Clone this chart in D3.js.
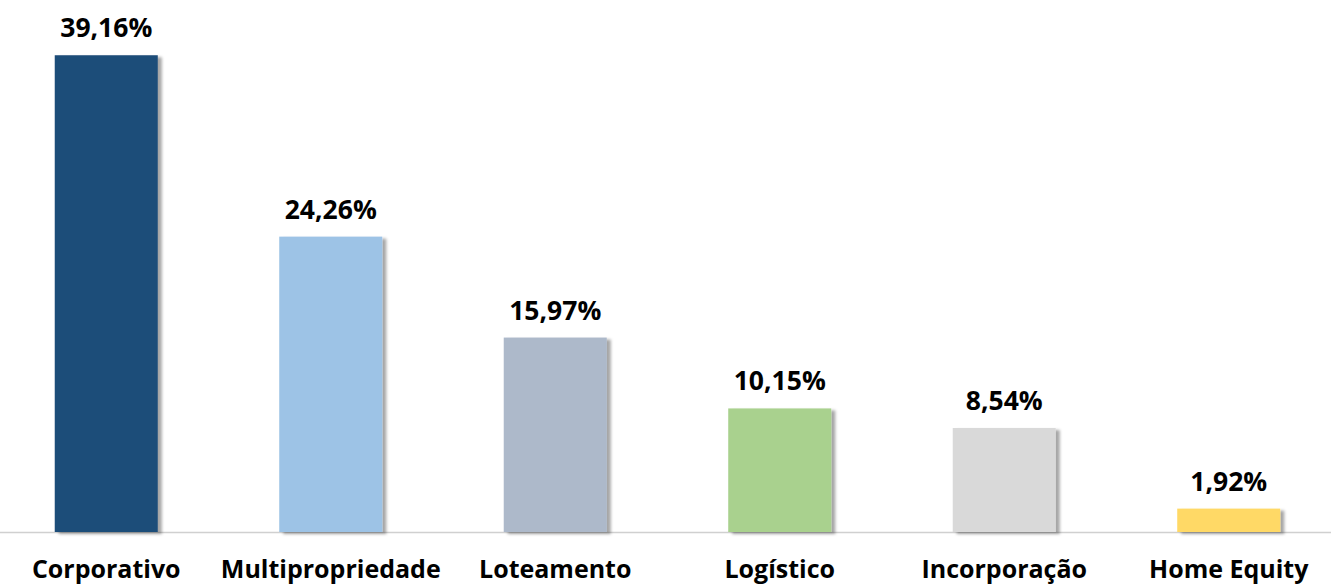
<!DOCTYPE html>
<html>
<head>
<meta charset="utf-8">
<script src="https://cdn.jsdelivr.net/npm/d3@7"></script>
<style>
  body { margin: 0; background: #fff; }
  text { font-family: "Open Sans", "Noto Sans", sans-serif; font-weight: 700; fill: #000; }
</style>
</head>
<body>
<div id="chart"></div>
<script>
const w = 1331,
      h = 584;

const categories = ['Corporativo', 'Multipropriedade', 'Loteamento', 'Logístico', 'Incorporação', 'Home Equity'];
const values = [39.16, 24.26, 15.97, 10.15, 8.54, 1.92];
const colors = ['#1f4e79', '#9dc3e6', '#adb9ca', '#a9d18e', '#d9d9d9', '#ffd966'];

const fmt = v => v.toFixed(2).replace('.', ',') + '%';

const svg = d3.select('#chart').append('svg')
              .attr('width', w)
              .attr('height', h);

// soft shadow to the right of each bar
const defs = svg.append('defs');
const shadow = defs.append('filter').attr('id', 'shadow')
                   .attr('x', '-10%').attr('y', '-10%').attr('width', '130%').attr('height', '130%');
shadow.append('feDropShadow')
      .attr('dx', 4).attr('dy', 2)
      .attr('stdDeviation', 1.8)
      .attr('flood-color', '#000')
      .attr('flood-opacity', 0.35);

const x = d3.scaleBand()
            .domain(categories)
            .range([4, 1331])
            .paddingInner(0.541)
            .paddingOuter(0.226);
const y = d3.scaleLinear().domain([0, 40]).range([532, 45]);

// baseline
svg.append('line')
   .attr('x1', 0).attr('x2', w)
   .attr('y1', y(0) + 0.5).attr('y2', y(0) + 0.5)
   .attr('stroke', '#d0d0d0')
   .attr('stroke-width', 1.5);

svg.selectAll('rect.bar')
   .data(values)
   .enter()
   .append('rect')
   .attr('class', 'bar')
   .attr('x', (d, i) => x(categories[i]))
   .attr('width', x.bandwidth())
   .attr('y', d => y(d))
   .attr('height', d => y(0) - y(d))
   .attr('fill', (d, i) => colors[i])
   .attr('filter', 'url(#shadow)');

svg.selectAll('text.value')
   .data(values)
   .enter()
   .append('text')
   .attr('class', 'value')
   .attr('x', (d, i) => x(categories[i]) + x.bandwidth() / 2)
   .attr('y', d => y(d) - 18)
   .attr('text-anchor', 'middle')
   .style('font-size', '26.5px')
   .text(fmt);

svg.selectAll('text.cat')
   .data(categories)
   .enter()
   .append('text')
   .attr('class', 'cat')
   .attr('x', d => x(d) + x.bandwidth() / 2)
   .attr('y', 578)
   .attr('text-anchor', 'middle')
   .style('font-size', '25px')
   .text(d => d);
</script>
</body>
</html>
